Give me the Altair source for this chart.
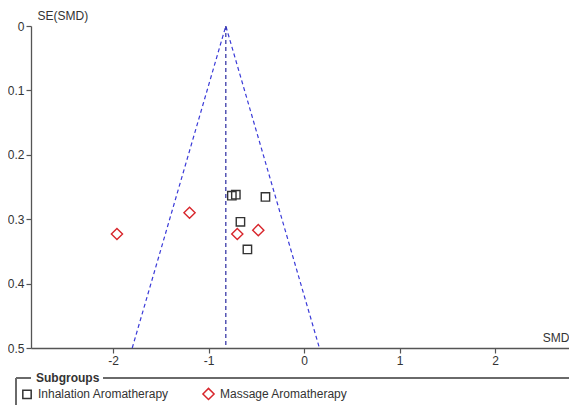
import altair as alt
import pandas as pd

# Study points (SMD, SE)
inh_smd = [-0.757, -0.715, -0.405, -0.667, -0.594]
inh_se = [0.2635, 0.262, 0.2655, 0.304, 0.347]
mas_smd = [-1.20, -0.70, -0.48, -1.96]
mas_se = [0.290, 0.323, 0.317, 0.323]
groups = ["Inhalation Aromatherapy", "Massage Aromatherapy"]

# Funnel (pooled estimate and 95% limits)
funnel_x = [-1.80, -0.82, 0.16]
funnel_y = [0.5, 0.0, 0.5]
center = -0.82

x_ticks = [-2, -1, 0, 1, 2]
y_ticks = [0, 0.1, 0.2, 0.3, 0.4, 0.5]

W, H = 538, 322
X_DOM = [-2.86, -2.86 + W / 95.5]

pts = pd.DataFrame({
    "SMD": inh_smd + mas_smd,
    "SE": inh_se + mas_se,
    "Subgroup": [groups[0]] * len(inh_smd) + [groups[1]] * len(mas_smd),
})
funnel = pd.DataFrame({"SMD": funnel_x, "SE": funnel_y, "ord": [0, 1, 2]})
vline = pd.DataFrame({"SMD": [center], "SE": [0.0], "SE2": [0.5]})

FONT = "Liberation Sans"
LINE = "#3a3ad8"

xscale = alt.Scale(domain=X_DOM, nice=False, zero=False)
yscale = alt.Scale(domain=[0, 0.5], reverse=True, nice=False, zero=False)

xaxis = alt.Axis(values=x_ticks, labelExpr="'' + datum.value", title="SMD",
                 titleAngle=0, titleX=W, titleY=-4, titleAlign="right",
                 titleBaseline="bottom", grid=False)
yaxis = alt.Axis(values=y_ticks, labelExpr="'' + datum.value", title="SE(SMD)",
                 titleAngle=0, titleX=6, titleY=-4, titleAlign="left",
                 titleBaseline="bottom", grid=False)

funnel_layer = alt.Chart(funnel).mark_line(
    color=LINE, strokeDash=[4, 3], strokeWidth=1.2
).encode(
    x=alt.X("SMD:Q", scale=xscale, axis=xaxis),
    y=alt.Y("SE:Q", scale=yscale, axis=yaxis),
    order="ord:O",
)

vline_layer = alt.Chart(vline).mark_rule(
    color="#2a2aa0", strokeDash=[4, 3], strokeWidth=1.2
).encode(x="SMD:Q", y="SE:Q", y2="SE2:Q")

points_layer = alt.Chart(pts).mark_point(filled=False, strokeWidth=1.4, opacity=1).encode(
    x="SMD:Q",
    y="SE:Q",
    shape=alt.Shape("Subgroup:N", scale=alt.Scale(domain=groups, range=["square", "diamond"]),
                    legend=alt.Legend(title=None, orient="none", legendX=-10, legendY=361,
                                      direction="horizontal", columnPadding=30,
                                      labelFontSize=12, labelFont=FONT, labelColor="#333",
                                      labelOffset=5, padding=0)),
    color=alt.Color("Subgroup:N", scale=alt.Scale(domain=groups, range=["#333333", "#d8262c"])),
    size=alt.Size("Subgroup:N", scale=alt.Scale(domain=groups, range=[70, 125])),
)

FRAME = "#6a6a6a"
frame_top_l = alt.Chart(pts).mark_rule(color=FRAME, strokeWidth=1).encode(
    x=alt.value(-15), x2=alt.value(0), y=alt.value(352))
frame_top_r = alt.Chart(pts).mark_rule(color=FRAME, strokeWidth=1).encode(
    x=alt.value(72), x2=alt.value(W), y=alt.value(352))
frame_left = alt.Chart(pts).mark_rule(color=FRAME, strokeWidth=1).encode(
    x=alt.value(-15), y=alt.value(352), y2=alt.value(400))
frame_title = alt.Chart(pd.DataFrame({"t": ["Subgroups"]})).mark_text(
    font=FONT, fontSize=12, fontWeight="bold", color="#333", align="left", baseline="middle"
).encode(x=alt.value(5), y=alt.value(352), text="t:N")

chart = alt.layer(
    funnel_layer, vline_layer, points_layer,
    frame_top_l, frame_top_r, frame_left, frame_title,
).properties(
    width=W, height=H,
    autosize=alt.AutoSizeParams(type="none"),
    padding={"left": 23, "top": 18, "right": 0, "bottom": 57},
).configure_view(stroke=None).configure_axis(
    domainColor="#555", tickColor="#555", labelColor="#333", titleColor="#333",
    labelFont=FONT, titleFont=FONT, labelFontSize=12, titleFontSize=12,
    titleFontWeight="normal", tickSize=5, domainWidth=1.3, tickWidth=1.2, labelPadding=2,
)

chart.save("out.html", embed_options={"renderer": "svg", "actions": False})
